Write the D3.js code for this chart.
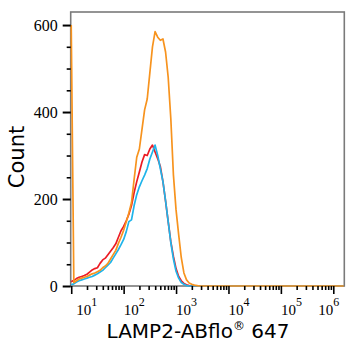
<!DOCTYPE html>
<html><head><meta charset="utf-8">
<script src="https://cdn.jsdelivr.net/npm/d3@7"></script>
<style>body{margin:0;background:#fff}</style>
</head><body>
<svg id="chart" width="356" height="350"></svg>
<script>
// log10 of fluorescence bin centres
const binExp = [1.00,1.05,1.10,1.15,1.20,1.25,1.30,1.35,1.40,1.45,1.50,1.55,1.60,1.65,1.70,1.75,1.80,1.85,1.90,1.95,
  2.00,2.05,2.10,2.15,2.20,2.25,2.30,2.35,2.40,2.45,2.50,2.55,2.60,2.65,2.70,2.75,2.80,2.85,2.90,2.95,
  3.00,3.05,3.10,3.15,3.20,3.25,3.30,3.35,3.40,3.45,3.50,6.20];
const redCounts = [10,13,17,20,22,24,27,32,37,40,42,52,60,64,72,80,88,97,112,127,
  137,150,165,185,215,240,262,285,302,300,315,324,308,293,275,240,195,148,102,68,
  40,22,12,6,3,1,0,0,0,0,0,0];
const cyanCounts = [3,5,9,12,14,16,18,20,22,25,28,32,36,42,48,54,64,74,84,95,
  107,125,148,152,185,210,228,242,255,270,292,308,324,300,270,240,196,148,100,62,
  34,18,8,4,1,0,0,0,0,0,0,0];
const orangeCounts = [600,8,12,16,18,20,22,25,28,30,33,36,42,46,52,62,72,82,98,112,
  128,148,168,192,245,296,315,360,405,430,490,550,585,572,565,568,538,480,385,255,
  175,118,65,30,14,7,4,2,1,0,0,0];
const yTickValues = [0,200,400,600];
const xTickExps = [1,2,3,4,5,6];
const xTitle = "LAMP2-ABflo";
const xTitleSup = "®";
const xTitleEnd = " 647";
const yTitle = "Count";

const svg = d3.select("#chart");
const L = 70.7, R = 344.3, T = 12, B = 286;
const x = d3.scaleLog().domain([10**0.99, 10**6.21]).range([L, R]);
const y = d3.scaleLinear().domain([0, 630]).range([B, T]);

svg.append("defs").append("clipPath").attr("id","clip")
  .append("rect").attr("x",L-1).attr("y",T).attr("width",R-L+1).attr("height",B-T+1);

// frame
svg.append("rect").attr("x",L).attr("y",T).attr("width",R-L).attr("height",B-T)
  .attr("fill","none").attr("stroke","#7a7a7a").attr("stroke-width",1.6);

// series
const line = d3.line().x(d => x(10**d[0])).y(d => y(d[1]));
const series = [
  {vals: redCounts, color: "#ec1c24"},
  {vals: cyanCounts, color: "#1fb4ea"},
  {vals: orangeCounts, color: "#f7931e"}
];
const g = svg.append("g").attr("clip-path","url(#clip)");
series.forEach(s => {
  g.append("path").datum(binExp.map((e,i) => [e, s.vals[i]]))
    .attr("d", line).attr("fill","none").attr("stroke", s.color)
    .attr("stroke-width",1.7).attr("stroke-linejoin","round");
});

// x axis ticks
const majorX = xTickExps.map(e => 10**e);
const minorX = [];
for (let e = 0; e <= 6; e++) for (let m = 2; m <= 9; m++) {
  const v = m * 10**e; if (v > x.domain()[0] && v < x.domain()[1]) minorX.push(v);
}
const axStyle = sel => { sel.select(".domain").remove(); sel.selectAll("line").attr("stroke","#000").attr("stroke-width",1.6); sel.selectAll("text").remove(); };
svg.append("g").attr("transform",`translate(0,${B})`)
  .call(d3.axisBottom(x).tickValues(minorX).tickSize(4).tickFormat("")).call(axStyle);
svg.append("g").attr("transform",`translate(0,${B})`)
  .call(d3.axisBottom(x).tickValues(majorX).tickSize(8).tickFormat("")).call(axStyle);

// x tick labels (10^n)
xTickExps.forEach((e,i) => {
  let off = 0;
  if (i === 0) off = 5;
  if (i === xTickExps.length - 1) off = -15;
  const t = svg.append("text").attr("x", x(10**e) + off).attr("y", 315)
    .attr("font-family","'Liberation Serif', 'DejaVu Serif', serif").attr("font-size",15).attr("fill","#000");
  t.append("tspan").text("10");
  t.append("tspan").attr("font-size",12).attr("dy",-9).text(String(e));
});

// y axis ticks
const minorY = d3.range(50, 630, 50).filter(v => v % 200 !== 0);
svg.append("g").attr("transform",`translate(${L},0)`)
  .call(d3.axisLeft(y).tickValues(minorY).tickSize(4).tickFormat("")).call(axStyle);
const yAx = svg.append("g").attr("transform",`translate(${L},0)`)
  .call(d3.axisLeft(y).tickValues(yTickValues).tickSize(8).tickPadding(5).tickFormat(d3.format("d")));
yAx.select(".domain").remove();
yAx.selectAll("line").attr("stroke","#000").attr("stroke-width",2);
yAx.selectAll("text").attr("font-family","'Liberation Serif', 'DejaVu Serif', serif").attr("font-size",16).attr("fill","#000");

// titles
const xt = svg.append("text").attr("x", 198).attr("y", 338).attr("text-anchor","middle")
  .attr("font-family","'DejaVu Sans', sans-serif").attr("font-size",20).attr("fill","#000");
xt.append("tspan").text(xTitle);
xt.append("tspan").attr("font-size",12).attr("dy",-8).text(xTitleSup);
xt.append("tspan").attr("dy",8).text(xTitleEnd);

svg.append("text").attr("transform","translate(24,157) rotate(-90)").attr("text-anchor","middle")
  .attr("font-family","'DejaVu Sans', sans-serif").attr("font-size",21).attr("fill","#000").text(yTitle);
</script>
</body></html>
